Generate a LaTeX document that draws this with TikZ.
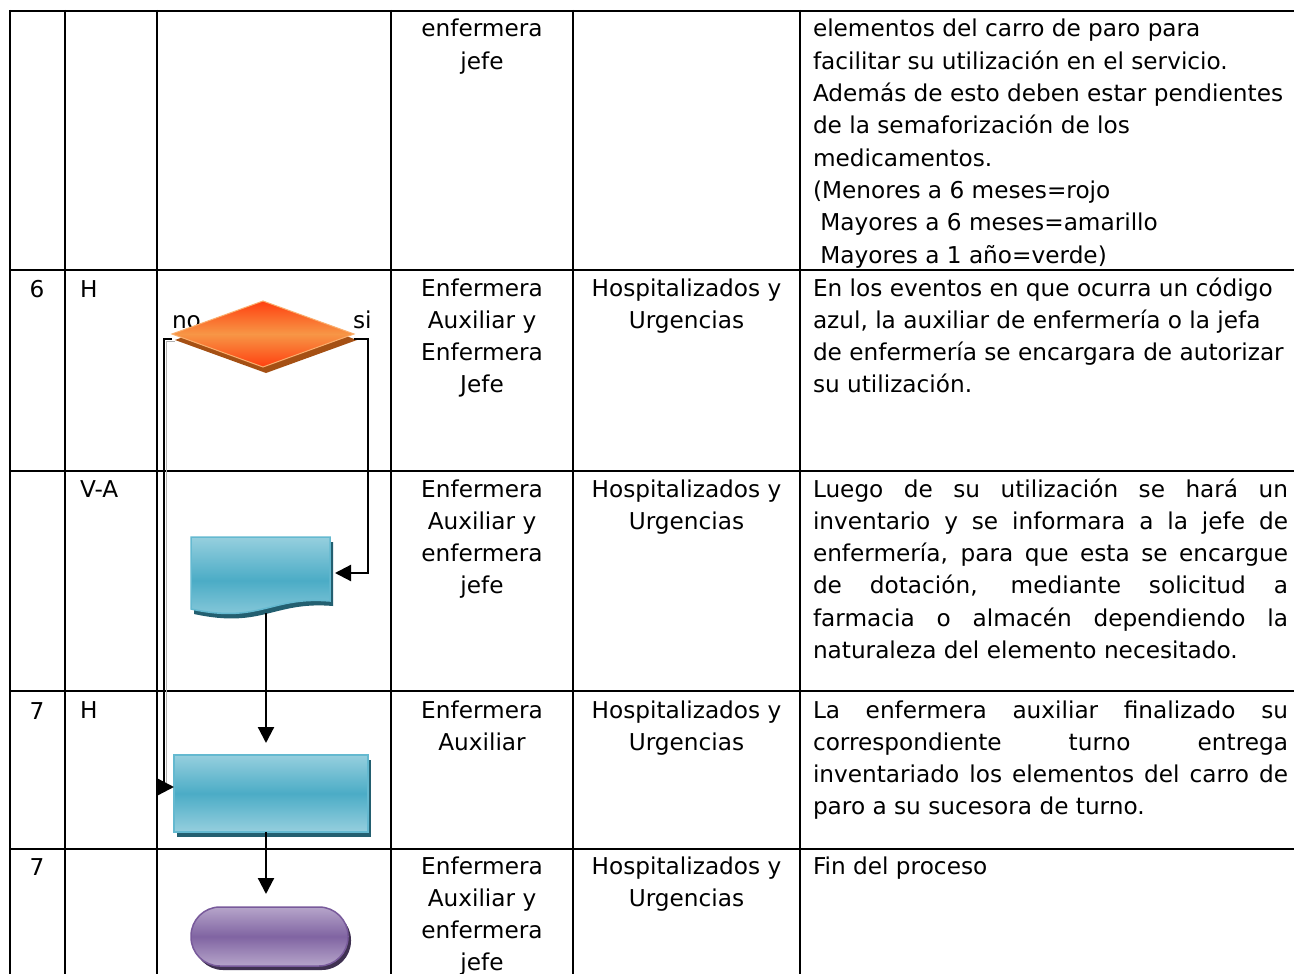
\documentclass[tikz,border=0pt]{standalone}
\usepackage{fontspec}
\setmainfont{DejaVu Sans}
\usetikzlibrary{arrows.meta,calc,shapes.geometric,shadows}
\newcommand\jline[1]{\makebox[475pt][s]{#1}}
\definecolor{orTop}{RGB}{255,64,16}
\definecolor{orMid}{RGB}{247,150,70}
\definecolor{orEdge}{RGB}{250,175,110}
\definecolor{orShadow}{RGB}{165,80,20}
\definecolor{blTop}{RGB}{150,207,222}
\definecolor{blMid}{RGB}{75,172,198}
\definecolor{blEdge}{RGB}{100,185,208}
\definecolor{blShadow}{RGB}{35,95,112}
\definecolor{puTop}{RGB}{182,165,202}
\definecolor{puMid}{RGB}{128,100,162}
\definecolor{puEdge}{RGB}{120,90,155}
\definecolor{puShadow}{RGB}{63,49,81}
\begin{document}
\begin{tikzpicture}[x=1pt,y=-1pt,
  every node/.style={font=\fontsize{23.2}{32.3}\selectfont, inner sep=0pt, outer sep=0pt},
  gridline/.style={line width=2.3pt, black},
  conn/.style={line width=2.2pt, black},
  arr/.style={conn, -{Triangle[length=16pt,width=16pt]}},
  cellc/.style={anchor=base},
  celll/.style={anchor=base west},
  decision/.style={diamond, minimum width=182pt, minimum height=66pt, draw=orEdge, line width=1pt,
    top color=orTop, bottom color=orTop, middle color=orMid,
    drop shadow={shadow xshift=3pt, shadow yshift=-6pt, fill=orShadow, opacity=1}},
  process/.style={rectangle, minimum width=194pt, minimum height=77pt, draw=blEdge, line width=1.5pt,
    top color=blTop, bottom color=blTop, middle color=blMid,
    drop shadow={shadow xshift=3pt, shadow yshift=-5pt, fill=blShadow, opacity=1}},
  terminal/.style={rectangle, rounded corners=29pt, minimum width=157pt, minimum height=59pt, draw=puEdge, line width=1.5pt,
    top color=puTop, bottom color=puTop, middle color=puMid,
    drop shadow={shadow xshift=3pt, shadow yshift=-4pt, fill=puShadow, opacity=1}},
  docbox/.style={rectangle, minimum width=139pt, minimum height=76pt}
]
\useasboundingbox (0,0) rectangle (1294,974);
\fill[white] (0,0) rectangle (1294,974);

% table grid
\foreach \gx in {10,65,157,391,573,800}
  \draw[gridline] (\gx,10) -- (\gx,980);
\foreach \gy in {11,270,471,691,849}
  \draw[gridline] (9,\gy) -- (1300,\gy);

% ---- row 1 (continued) ----
\node[cellc] (r1c3) at (482,37) {\begin{tabular}[t]{@{}c@{}}enfermera\\jefe\end{tabular}};
\node[celll] (r1c5) at (813,37) {\begin{tabular}[t]{@{}l@{}}elementos del carro de paro para\\
facilitar su utilización en el servicio.\\
Además de esto deben estar pendientes\\
de la semaforización de los\\
medicamentos.\\
(Menores a 6 meses=rojo\\
\ Mayores a 6 meses=amarillo\\
\ Mayores a 1 año=verde)\end{tabular}};

% ---- row 6 ----
\node[cellc] (r6c1) at (37,297) {6};
\node[celll] (r6c2) at (80,297) {H};
\node[cellc] (r6c3) at (482,296) {\begin{tabular}[t]{@{}c@{}}Enfermera\\Auxiliar y\\Enfermera\\Jefe\end{tabular}};
\node[cellc] (r6c4) at (686.5,296) {\begin{tabular}[t]{@{}c@{}}Hospitalizados y\\Urgencias\end{tabular}};
\node[celll] (r6c5) at (813,296) {\begin{tabular}[t]{@{}l@{}}En los eventos en que ocurra un código\\
azul, la auxiliar de enfermería o la jefa\\
de enfermería se encargara de autorizar\\
su utilización.\end{tabular}};

% ---- row V-A ----
\node[celll] (r7c2) at (80,497) {V-A};
\node[cellc] (r7c3) at (482,497) {\begin{tabular}[t]{@{}c@{}}Enfermera\\Auxiliar y\\enfermera\\jefe\end{tabular}};
\node[cellc] (r7c4) at (686.5,497) {\begin{tabular}[t]{@{}c@{}}Hospitalizados y\\Urgencias\end{tabular}};
\node[celll] (r7c5) at (813,497) {\begin{tabular}[t]{@{}l@{}}\jline{Luego de su utilización se hará un}\\
\jline{inventario y se informara a la jefe de}\\
\jline{enfermería, para que esta se encargue}\\
\jline{de dotación, mediante solicitud a}\\
\jline{farmacia o almacén dependiendo la}\\
naturaleza del elemento necesitado.\end{tabular}};

% ---- row 7 ----
\node[cellc] (r8c1) at (37,719) {7};
\node[celll] (r8c2) at (80,718) {H};
\node[cellc] (r8c3) at (482,718) {\begin{tabular}[t]{@{}c@{}}Enfermera\\Auxiliar\end{tabular}};
\node[cellc] (r8c4) at (686.5,718) {\begin{tabular}[t]{@{}c@{}}Hospitalizados y\\Urgencias\end{tabular}};
\node[celll] (r8c5) at (813,718) {\begin{tabular}[t]{@{}l@{}}\jline{La enfermera auxiliar finalizado su}\\
\jline{correspondiente turno entrega}\\
\jline{inventariado los elementos del carro de}\\
paro a su sucesora de turno.\end{tabular}};

% ---- row 7 (end) ----
\node[cellc] (r9c1) at (37,875) {7};
\node[cellc] (r9c3) at (482,874) {\begin{tabular}[t]{@{}c@{}}Enfermera\\Auxiliar y\\enfermera\\jefe\end{tabular}};
\node[cellc] (r9c4) at (686.5,874) {\begin{tabular}[t]{@{}c@{}}Hospitalizados y\\Urgencias\end{tabular}};
\node[celll] (r9c5) at (813,874) {Fin del proceso};

% ---- flowchart ----
\node[celll] (lblno) at (172,328) {no};
\node[celll] (lblsi) at (353,328) {si};
\node[decision] (dia) at (263,334) {};

\node[docbox] (doc) at (260.5,575) {};
\begin{scope}[shift={(doc.north west)}]
  \fill[blShadow] (3,5) -- (142,5) -- (142,69) .. controls (82,64) and (72,92) .. (3,77) -- cycle;
  \path[draw=blEdge, line width=1.5pt, top color=blTop, bottom color=blTop, middle color=blMid]
    (0,0) -- (139,0) -- (139,64) .. controls (79,59) and (69,87) .. (0,72) -- cycle;
\end{scope}

\node[process] (rect) at (271,793.5) {};
\node[terminal] (term) at (269.5,936.5) {};

\coordinate (spine) at (266,0);
\draw[arr, shorten >=12pt] (doc.south -| spine) -- (rect.north -| spine);
\draw[arr, shorten >=13pt] (rect.south -| spine) -- (term.north -| spine);

\draw[line width=1pt, black!30] ($(dia.west)+(2.5,7)$) -- ++(-8,0) |- ($(rect.west)+(-14,-4.5)$);
\draw[arr] ($(dia.west)+(0,5)$) -- ++(-8,0) |- ($(rect.west)+(0,-6.5)$);
\draw[arr] ($(dia.east)+(0,5)$) -- ++(14,0) |- ($(doc.east)+(5,-2)$);
\end{tikzpicture}
\end{document}
